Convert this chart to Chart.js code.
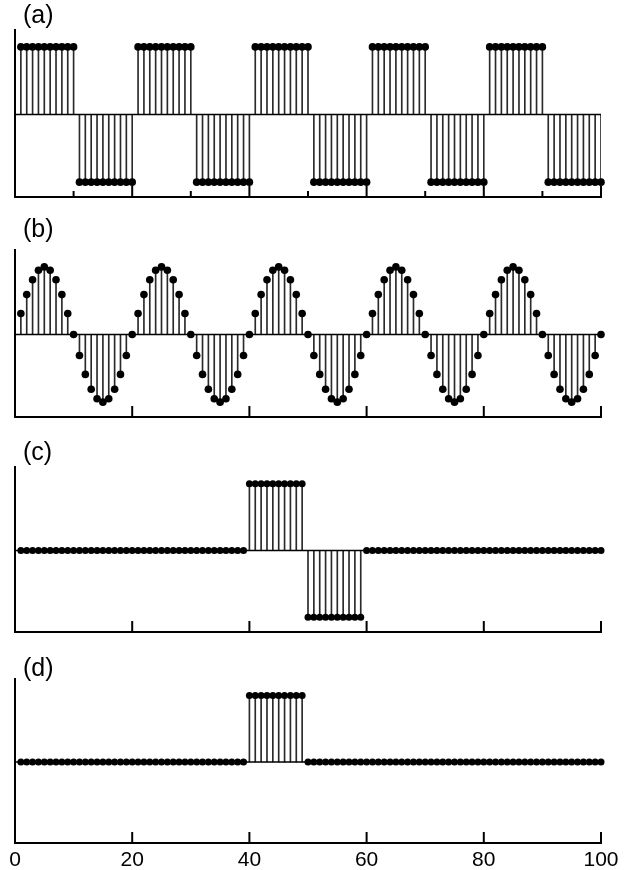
<!DOCTYPE html>
<html><head><meta charset="utf-8">
<script src="https://cdn.jsdelivr.net/npm/chart.js@4"></script>
<style>
html,body{margin:0;padding:0;background:#fff;}
body{width:625px;height:870px;position:relative;overflow:hidden;font-family:"Liberation Sans",Arial,sans-serif;}
canvas{position:absolute;left:0;}
.lbl{position:absolute;left:23px;font-size:25px;line-height:25px;color:#000;}
</style></head><body>
<canvas id="ca" width="625" height="210" style="top:0px"></canvas>
<canvas id="cb" width="625" height="220" style="top:210px"></canvas>
<canvas id="cc" width="625" height="220" style="top:430px"></canvas>
<canvas id="cd" width="625" height="220" style="top:650px"></canvas>
<div class="lbl" id="la" style="top:2px"></div>
<div class="lbl" id="lb" style="top:216px"></div>
<div class="lbl" id="lc" style="top:439px"></div>
<div class="lbl" id="ld" style="top:655px"></div>
<script>
const panelLabels = ['(a)', '(b)', '(c)', '(d)'];

const sampleIndex = [
  1,2,3,4,5,6,7,8,9,10,
  11,12,13,14,15,16,17,18,19,20,
  21,22,23,24,25,26,27,28,29,30,
  31,32,33,34,35,36,37,38,39,40,
  41,42,43,44,45,46,47,48,49,50,
  51,52,53,54,55,56,57,58,59,60,
  61,62,63,64,65,66,67,68,69,70,
  71,72,73,74,75,76,77,78,79,80,
  81,82,83,84,85,86,87,88,89,90,
  91,92,93,94,95,96,97,98,99,100
];

const squareWave = [
  1,1,1,1,1,1,1,1,1,1,
  -1,-1,-1,-1,-1,-1,-1,-1,-1,-1,
  1,1,1,1,1,1,1,1,1,1,
  -1,-1,-1,-1,-1,-1,-1,-1,-1,-1,
  1,1,1,1,1,1,1,1,1,1,
  -1,-1,-1,-1,-1,-1,-1,-1,-1,-1,
  1,1,1,1,1,1,1,1,1,1,
  -1,-1,-1,-1,-1,-1,-1,-1,-1,-1,
  1,1,1,1,1,1,1,1,1,1,
  -1,-1,-1,-1,-1,-1,-1,-1,-1,-1
];

const sineWave = [
  0.31,0.59,0.81,0.95,1,0.95,0.81,0.59,0.31,0,-0.31,-0.59,-0.81,-0.95,-1,-0.95,-0.81,-0.59,-0.31,0,
  0.31,0.59,0.81,0.95,1,0.95,0.81,0.59,0.31,0,-0.31,-0.59,-0.81,-0.95,-1,-0.95,-0.81,-0.59,-0.31,0,
  0.31,0.59,0.81,0.95,1,0.95,0.81,0.59,0.31,0,-0.31,-0.59,-0.81,-0.95,-1,-0.95,-0.81,-0.59,-0.31,0,
  0.31,0.59,0.81,0.95,1,0.95,0.81,0.59,0.31,0,-0.31,-0.59,-0.81,-0.95,-1,-0.95,-0.81,-0.59,-0.31,0,
  0.31,0.59,0.81,0.95,1,0.95,0.81,0.59,0.31,0,-0.31,-0.59,-0.81,-0.95,-1,-0.95,-0.81,-0.59,-0.31,0
];

const pulsePair = [
  0,0,0,0,0,0,0,0,0,0,
  0,0,0,0,0,0,0,0,0,0,
  0,0,0,0,0,0,0,0,0,0,
  0,0,0,0,0,0,0,0,0,1,
  1,1,1,1,1,1,1,1,1,-1,
  -1,-1,-1,-1,-1,-1,-1,-1,-1,0,
  0,0,0,0,0,0,0,0,0,0,
  0,0,0,0,0,0,0,0,0,0,
  0,0,0,0,0,0,0,0,0,0,
  0,0,0,0,0,0,0,0,0,0
];

const singlePulse = [
  0,0,0,0,0,0,0,0,0,0,
  0,0,0,0,0,0,0,0,0,0,
  0,0,0,0,0,0,0,0,0,0,
  0,0,0,0,0,0,0,0,0,1,
  1,1,1,1,1,1,1,1,1,0,
  0,0,0,0,0,0,0,0,0,0,
  0,0,0,0,0,0,0,0,0,0,
  0,0,0,0,0,0,0,0,0,0,
  0,0,0,0,0,0,0,0,0,0,
  0,0,0,0,0,0,0,0,0,0
];

const xTickValues = [0, 20, 40, 60, 80, 100];
const xTickLabels = ['0', '20', '40', '60', '80', '100'];
const xRange = [0, 100];
const yRange = [-1.22, 1.25];

const inwardTicks = {
  id: 'inwardTicks',
  afterDatasetsDraw(chart, args, opts) {
    const xs = chart.scales.x;
    const ctx = chart.ctx;
    const bottom = chart.chartArea.bottom;
    ctx.save();
    ctx.strokeStyle = '#000';
    ctx.lineWidth = 2;
    xs.ticks.forEach(t => {
      if (t.value <= xRange[0]) return;
      const len = (t.value % 20 === 0) ? opts.major : opts.minor;
      const px = xs.getPixelForValue(t.value);
      ctx.beginPath();
      ctx.moveTo(px, bottom);
      ctx.lineTo(px, bottom - len);
      ctx.stroke();
    });
    ctx.restore();
  }
};

function makePanel(id, values, cfg) {
  const pts = sampleIndex.map((x, i) => ({x: x, y: values[i]}));
  return new Chart(document.getElementById(id), {
    type: 'bar',
    data: {
      datasets: [
        {type: 'scatter', data: pts, pointRadius: cfg.dot, pointBackgroundColor: '#000',
         pointBorderWidth: 0, borderWidth: 0, order: 0, clip: false},
        {type: 'line', data: [{x: xRange[0], y: 0}, {x: xRange[1], y: 0}], borderColor: '#000',
         borderWidth: 1.6, pointRadius: 0, order: 1, clip: false},
        {type: 'bar', data: pts, backgroundColor: '#2a2a2a', barThickness: 1, borderWidth: 0,
         order: 2}
      ]
    },
    options: {
      responsive: false,
      animation: false,
      events: [],
      layout: {padding: {left: 15, right: 24, top: cfg.top, bottom: cfg.bottom}},
      plugins: {
        legend: {display: false},
        tooltip: {enabled: false},
        inwardTicks: {major: 11, minor: 6}
      },
      scales: {
        x: {
          type: 'linear', min: xRange[0], max: xRange[1], offset: false,
          ticks: {
            stepSize: cfg.step,
            display: cfg.labels,
            maxRotation: 0,
            autoSkip: false,
            padding: -3,
            color: '#000',
            font: {family: '"Liberation Sans", Arial, sans-serif', size: 21},
            callback: v => { const k = xTickValues.indexOf(v); return k >= 0 ? xTickLabels[k] : ''; }
          },
          grid: {display: false, offset: false},
          border: {display: true, color: '#000', width: 2},
          afterFit: s => { s.height = cfg.xh; }
        },
        y: {
          min: yRange[0], max: yRange[1],
          ticks: {display: false},
          grid: {display: false},
          border: {display: true, color: '#000', width: 2},
          afterFit: s => { s.width = 0; }
        }
      }
    },
    plugins: [inwardTicks]
  });
}

makePanel('ca', squareWave, {top: 30, bottom: 13, xh: 0, step: 10, labels: false, dot: 3.8});
makePanel('cb', sineWave, {top: 40, bottom: 13, xh: 0, step: 20, labels: false, dot: 3.8});
makePanel('cc', pulsePair, {top: 37, bottom: 18, xh: 0, step: 20, labels: false, dot: 3.5});
makePanel('cd', singlePulse, {top: 29, bottom: 0, xh: 27, step: 20, labels: true, dot: 3.5});

['la', 'lb', 'lc', 'ld'].forEach((id, i) => { document.getElementById(id).textContent = panelLabels[i]; });
</script>
</body></html>
